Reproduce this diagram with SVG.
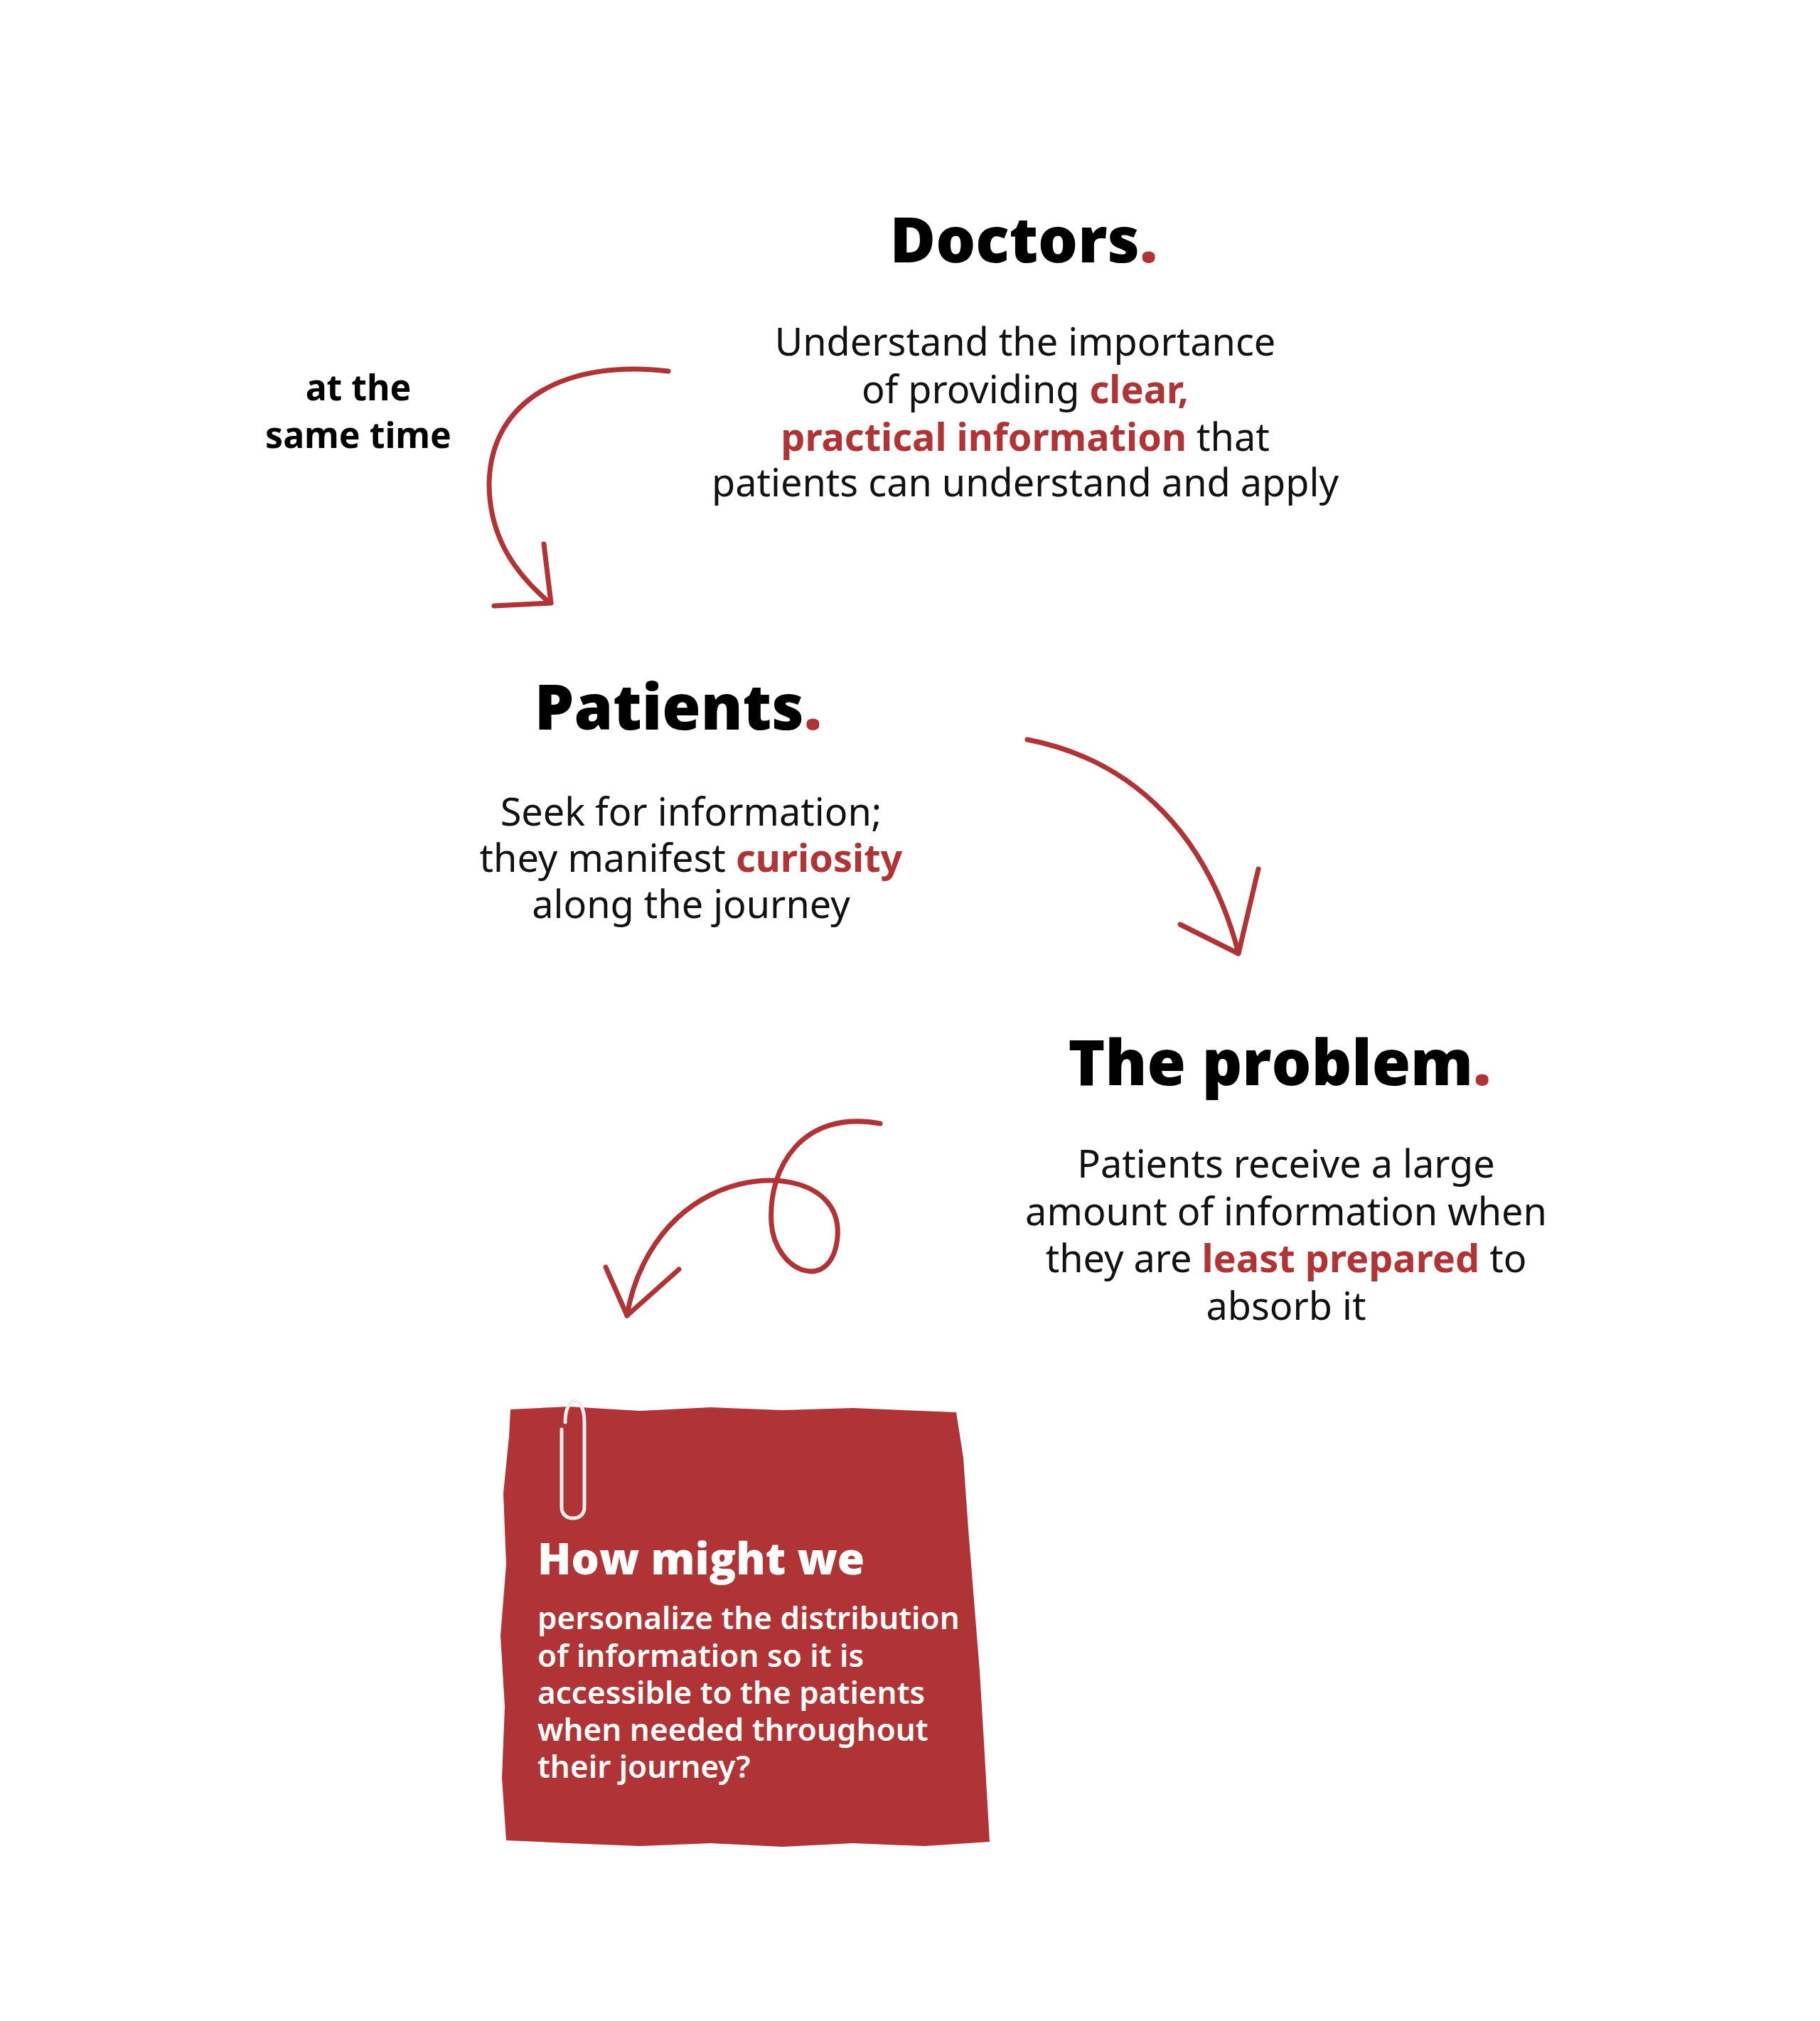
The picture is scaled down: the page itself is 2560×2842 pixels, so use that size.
<svg xmlns="http://www.w3.org/2000/svg" width="2560" height="2842" viewBox="0 0 2560 2842">
<style>
.h{font-family:"Open Sans","Liberation Sans",sans-serif;font-weight:800;font-size:88px;fill:#000;text-anchor:middle}
.b{font-family:"Noto Sans","Liberation Sans",sans-serif;font-size:54px;fill:#111;text-anchor:middle}
.r{fill:#b03336;font-weight:700}
.d{fill:#b03336}
.a{fill:none;stroke:#b03336;stroke-width:7;stroke-linecap:round;stroke-linejoin:round}
.s{font-family:"Noto Sans","Liberation Sans",sans-serif;font-weight:700;font-size:50px;fill:#000;text-anchor:middle}
.w{font-family:"Noto Sans","Liberation Sans",sans-serif;font-weight:600;font-size:44px;fill:#fff}
</style>
<rect width="2560" height="2842" fill="#fff"/>
<g id="connectors">
<path class="a" d="M940,522 C800,505 690,560 688,680 C688,760 730,810 770,845"/>
<path class="a" d="M695,852 L775,848 L765,765"/>
<path class="a" d="M1445,1040 C1600,1070 1700,1180 1742,1340"/>
<path class="a" d="M1660,1300 L1742,1341 L1770,1222"/>
<path class="a" d="M1238,1580 C1130,1560 1080,1640 1085,1720 C1090,1790 1170,1820 1178,1740 C1185,1660 1080,1640 1000,1680 C920,1720 890,1800 882,1850"/>
<path class="a" d="M852,1782 L882,1850 L955,1785"/>
</g>
<g id="same-time">
<text class="s" x="504" y="563">at the</text>
<text class="s" x="504" y="630">same time</text>
</g>
<g id="doctors">
<text class="h" x="1440" y="369">Doctors<tspan class="d">.</tspan></text>
<text class="b" x="1442" y="500">Understand the importance</text>
<text class="b" x="1442" y="567">of providing <tspan class="r">clear,</tspan></text>
<text class="b" x="1442" y="634"><tspan class="r">practical information</tspan> that</text>
<text class="b" x="1442" y="698">patients can understand and apply</text>
</g>
<g id="patients">
<text class="h" x="954" y="1026">Patients<tspan class="d">.</tspan></text>
<text class="b" x="972" y="1161">Seek for information;</text>
<text class="b" x="972" y="1226">they manifest <tspan class="r">curiosity</tspan></text>
<text class="b" x="972" y="1291">along the journey</text>
</g>
<g id="problem">
<text class="h" x="1800" y="1526">The problem<tspan class="d">.</tspan></text>
<text class="b" x="1809" y="1656">Patients receive a large</text>
<text class="b" x="1809" y="1723">amount of information when</text>
<text class="b" x="1809" y="1789">they are <tspan class="r">least prepared</tspan> to</text>
<text class="b" x="1809" y="1856">absorb it</text>
</g>
<g id="hmw">
<path fill="#b03336" d="M718,1982 L800,1978 L900,1984 L1000,1979 L1100,1983 L1200,1980 L1345,1986 L1355,2050 L1362,2150 L1370,2250 L1378,2350 L1384,2450 L1392,2590 L1300,2596 L1200,2592 L1100,2597 L1000,2592 L900,2596 L800,2592 L712,2588 L706,2500 L710,2400 L704,2300 L712,2200 L708,2100 L716,2020 Z"/>
<path fill="none" stroke="#eee" stroke-width="5" stroke-linecap="round" d="M795,2000 C795,1960 822,1960 822,2000 L822,2120 C822,2140 790,2140 790,2120 L790,2010"/>
<text class="w" x="756" y="2214" style="font-family:'Open Sans','Liberation Sans',sans-serif;font-weight:800;font-size:62px">How might we</text>
<text class="w" x="756" y="2291">personalize the distribution</text>
<text class="w" x="756" y="2344">of information so it is</text>
<text class="w" x="756" y="2396">accessible to the patients</text>
<text class="w" x="756" y="2448">when needed throughout</text>
<text class="w" x="756" y="2500">their journey?</text>
</g>
</svg>
